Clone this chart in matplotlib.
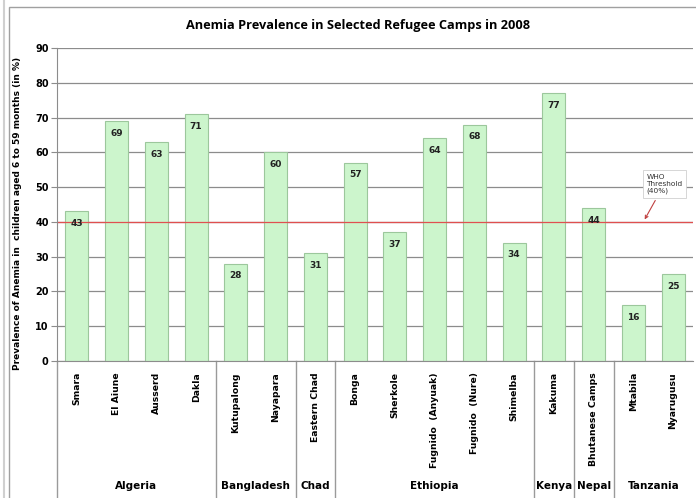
import matplotlib
matplotlib.use("Agg")
import matplotlib.pyplot as plt
from matplotlib.patches import Rectangle
from matplotlib.lines import Line2D

camps = ["Smara", "El Aiune", "Ausserd", "Dakla", "Kutupalong", "Nayapara",
         "Eastern Chad", "Bonga", "Sherkole", "Fugnido  (Anyuak)", "Fugnido  (Nure)",
         "Shimelba", "Kakuma", "Bhutanese Camps", "Mtabila", "Nyarugusu"]
values = [43, 69, 63, 71, 28, 60, 31, 57, 37, 64, 68, 34, 77, 44, 16, 25]
countries = ["Algeria", "Bangladesh", "Chad", "Ethiopia", "Kenya", "Nepal", "Tanzania"]
country_sizes = [4, 2, 1, 5, 1, 1, 2]
yticks = [0, 10, 20, 30, 40, 50, 60, 70, 80, 90]
threshold = 40

W, H = 696, 498
fig = plt.figure(figsize=(W/100, H/100), dpi=100)
fig.patch.set_facecolor("white")

# outer frame
fig.add_artist(Rectangle((9/W, -0.01), 1.0, 1 - 7/H + 0.01, transform=fig.transFigure,
                         fill=False, edgecolor="#a0a0a0", lw=1.0))
fig.add_artist(Line2D([4/W, 4/W], [0, 1], transform=fig.transFigure, color="#d0d0d0", lw=1.5))

left, right = 57/W, 693/W
bottom, top = 1 - 361/H, 1 - 48/H
ax = fig.add_axes([left, bottom, right - left, top - bottom])

n = len(camps)
x = list(range(n))
ax.set_xlim(-0.5, n - 0.5)
ax.set_ylim(0, 90)
ax.set_yticks(yticks)
ax.yaxis.grid(True, color="#8c8c8c", lw=0.9)
ax.set_axisbelow(True)

ax.bar(x, values, width=0.58, color="#ccf5cc", edgecolor="#9cc79c", lw=0.8, zorder=2)
for xi, v in zip(x, values):
    ax.text(xi, v - 2.2, str(v), ha="center", va="top", fontsize=6.5, fontweight="bold",
            color="#222222", zorder=3)

ax.axhline(threshold, color="#e05050", lw=0.9, zorder=2.5)

for s in ["top", "right"]:
    ax.spines[s].set_visible(False)
ax.spines["left"].set_color("#8c8c8c")
ax.spines["bottom"].set_color("#8c8c8c")
ax.tick_params(axis="y", length=4, color="#8c8c8c", labelsize=7, pad=2)
for lab in ax.get_yticklabels():
    lab.set_fontweight("bold")
ax.set_xticks(x)
ax.set_xticklabels(camps, rotation=90, fontsize=6.7, fontweight="bold", va="top")
ax.tick_params(axis="x", length=0, pad=8)

ax.set_ylabel("Prevalence of Anemia in  children aged 6 to 59 months (in %)",
              fontsize=6.5, fontweight="bold", labelpad=5)
ax.yaxis.set_label_coords(-0.055, 0.47)

# group separators and labels
trans = ax.get_xaxis_transform()
start = 0
bounds = [0]
for c, sz in zip(countries, country_sizes):
    mid = start + (sz - 1) / 2
    ax.text(mid, -0.4, c, transform=trans, ha="center", va="center", fontsize=7.5,
            fontweight="bold", clip_on=False)
    start += sz
    bounds.append(start)
for b in bounds[:-1]:
    ax.add_line(Line2D([b - 0.5, b - 0.5], [0, -0.45], transform=trans, color="#9a9a9a",
                       lw=1.0, clip_on=False))

# WHO annotation
ax.annotate("WHO\nThreshold\n(40%)", xy=(14.25, threshold), xytext=(14.33, 48.0),
            fontsize=5.3, color="#333333", ha="left", va="bottom",
            bbox=dict(boxstyle="square,pad=0.5", fc="white", ec="#d0d0d0", lw=0.6),
            arrowprops=dict(arrowstyle="->", color="#c04040", lw=0.8))

fig.text(0.515, 1 - 26/H, "Anemia Prevalence in Selected Refugee Camps in 2008",
         ha="center", va="center", fontsize=9.2, fontweight="bold", family="Open Sans")

fig.savefig("out.png", dpi=100)
